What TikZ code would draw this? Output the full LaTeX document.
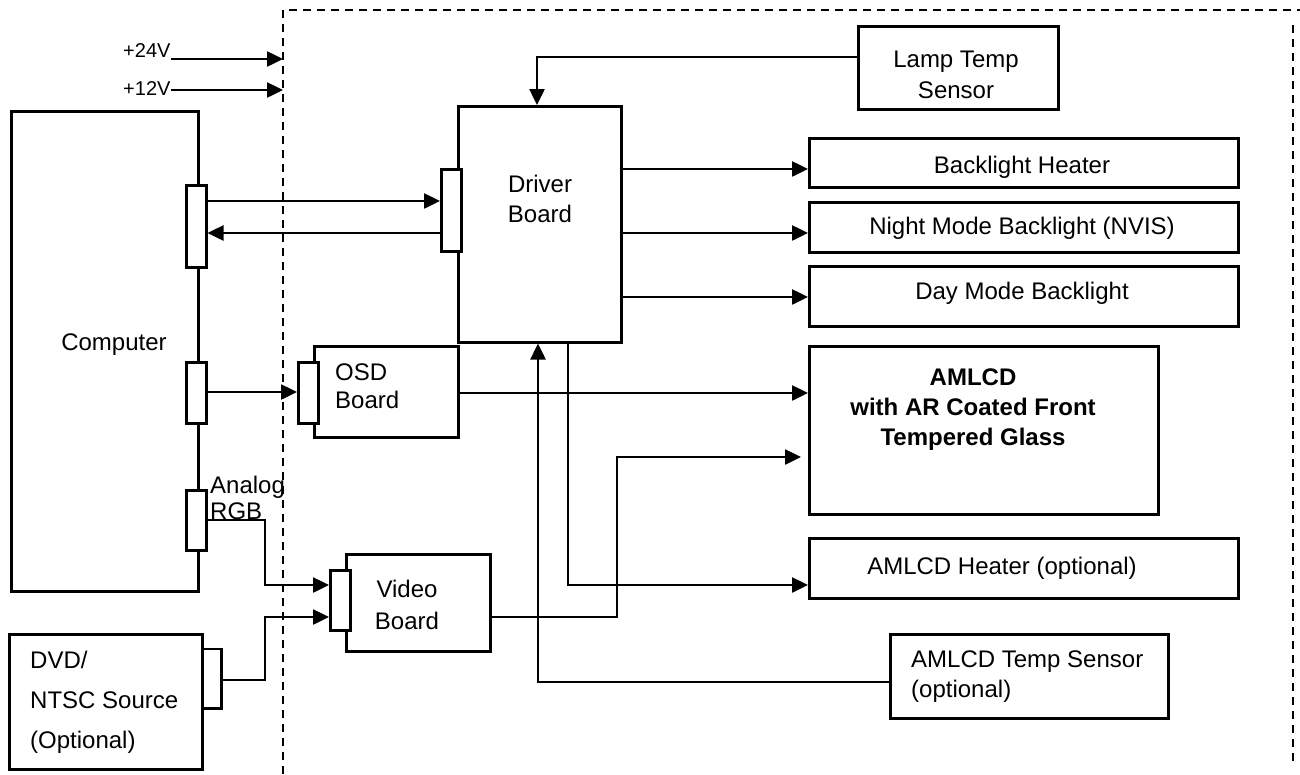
\documentclass[tikz,border=0pt]{standalone}
\usepackage{fontspec}
\setmainfont{Liberation Sans}
\usetikzlibrary{arrows.meta}
\begin{document}
\begin{tikzpicture}[x=1pt,y=-1pt,
  box/.style={draw, line width=2.5pt, anchor=north west, inner sep=0pt, fill=white},
  lbl/.style={font=\fontsize{24}{30}\selectfont, inner sep=0pt},
  slbl/.style={font=\fontsize{20}{24}\selectfont, inner sep=0pt},
  blbl/.style={font=\fontsize{24}{30}\selectfont\bfseries, inner sep=0pt},
  wire/.style={line width=2.5pt},
  arr/.style={wire, -{Triangle[length=16pt,width=15pt]}},
  bound/.style={line width=1.8pt, dash pattern=on 8pt off 6pt}]
\useasboundingbox (0,0) rectangle (1300,774);

% boundary
\coordinate (bTL) at (283,10);
\coordinate (bBL) at (283,774);
\coordinate (bTR) at (1300,10);
\coordinate (bRT) at (1293,25);
\coordinate (bRB) at (1293,762);
\draw[bound] (bBL) -- (bTL) -- (bTR);
\draw[bound, line width=1.4pt] (bRT) -- (bRB);
\coordinate (b24) at (283,59);
\coordinate (b12) at (283,90);

% boxes
\node[box, minimum width=187pt, minimum height=480pt] (comp) at (10,110) {};
\node[box, minimum width=163pt, minimum height=236pt] (driver) at (457,105) {};
\node[box, minimum width=200pt, minimum height=83pt] (lamp) at (857,25) {};
\node[box, minimum width=429pt, minimum height=49pt] (bh) at (808,137) {};
\node[box, minimum width=429pt, minimum height=50pt] (nm) at (808,201) {};
\node[box, minimum width=429pt, minimum height=60pt] (dm) at (808,265) {};
\node[box, minimum width=144pt, minimum height=91pt] (osd) at (313,345) {};
\node[box, minimum width=349pt, minimum height=168pt] (amlcd) at (808,345) {};
\node[box, minimum width=429pt, minimum height=60pt] (ah) at (808,537) {};
\node[box, minimum width=278pt, minimum height=84pt] (ats) at (889,633) {};
\node[box, minimum width=144pt, minimum height=97pt] (video) at (345,553) {};
\node[box, minimum width=193pt, minimum height=135pt] (dvd) at (8,633) {};

% connectors
\node[box, minimum width=20pt, minimum height=82pt] (cc1) at (185,184) {};
\node[box, minimum width=20pt, minimum height=61pt] (cc2) at (185,361) {};
\node[box, minimum width=20pt, minimum height=60pt] (cc3) at (185,489) {};
\node[box, minimum width=20pt, minimum height=82pt] (dc) at (440,168) {};
\node[box, minimum width=20pt, minimum height=61pt] (oc) at (297,361) {};
\node[box, minimum width=20pt, minimum height=60pt] (vc) at (329,569) {};
\node[anchor=north west, inner sep=0pt, minimum width=20pt, minimum height=59pt] (dvc) at (201,649) {};
\draw[wire] (dvc.north west) -- (dvc.north east) -- (dvc.south east) -- (dvc.south west);

% texts
\node[slbl, anchor=base west] (v24) at (123,57) {+24V};
\node[slbl, anchor=base west] (v12) at (123,95) {+12V};
\node[lbl, anchor=base] (tcomp) at (114,350) {Computer};
\node[lbl, anchor=base] (tdrv1) at (540,192) {Driver};
\node[lbl, anchor=base] (tdrv2) at (540,222) {Board};
\node[lbl, anchor=base] (tlamp1) at (956,67) {Lamp Temp};
\node[lbl, anchor=base] (tlamp2) at (956,98) {Sensor};
\node[lbl, anchor=base] (tbh) at (1022,173) {Backlight Heater};
\node[lbl, anchor=base] (tnm) at (1022,234) {Night Mode Backlight (NVIS)};
\node[lbl, anchor=base] (tdm) at (1022,299) {Day Mode Backlight};
\node[lbl, anchor=base west] (tosd1) at (335,380) {OSD};
\node[lbl, anchor=base west] (tosd2) at (335,408) {Board};
\node[blbl, anchor=base] (tam1) at (973,385) {AMLCD};
\node[blbl, anchor=base] (tam2) at (973,415) {with AR Coated Front};
\node[blbl, anchor=base] (tam3) at (973,445) {Tempered Glass};
\node[lbl, anchor=base] (tah) at (1002,574) {AMLCD Heater (optional)};
\node[lbl, anchor=base west] (tats1) at (911,667) {AMLCD Temp Sensor};
\node[lbl, anchor=base west] (tats2) at (911,697) {(optional)};
\node[lbl, anchor=base west] (trgb1) at (210,493) {Analog};
\node[lbl, anchor=base west] (trgb2) at (210,519) {RGB};
\node[lbl, anchor=base] (tvid1) at (407,597) {Video};
\node[lbl, anchor=base] (tvid2) at (407,629) {Board};
\node[lbl, anchor=base west] (tdvd1) at (30,668) {DVD/};
\node[lbl, anchor=base west] (tdvd2) at (30,708) {NTSC Source};
\node[lbl, anchor=base west] (tdvd3) at (30,748) {(Optional)};

% wires
\draw[arr] ([yshift=-2pt]v24.base east) -- (b24);
\draw[arr] ([yshift=5pt]v12.base east) -- (b12);
\draw[arr] (cc1.east |- 0,201) -- (dc.west |- 0,201);
\draw[arr] (dc.west |- 0,233) -- (cc1.east |- 0,233);
\draw[arr] (lamp.west |- 0,57) -- (537,57) -- (driver.north -| 537,0);
\draw[arr] ([xshift=-3pt]driver.east |- 0,169) -- (bh.west |- 0,169);
\draw[arr] ([xshift=-3pt]driver.east |- 0,233) -- (nm.west |- 0,233);
\draw[arr] ([xshift=-3pt]driver.east |- 0,297) -- (dm.west |- 0,297);
\draw[arr] (cc2.east |- 0,392) -- (oc.west |- 0,392);
\draw[arr] (osd.east |- 0,393) -- (amlcd.west |- 0,393);
\draw[arr] (driver.south -| 568,0) -- (568,585) -- (ah.west |- 0,585);
\draw[arr] (ats.west |- 0,682) -- (538,682) -- (driver.south -| 538,0);
\draw[arr] (cc3.east |- 0,520) -- (265,520) -- (265,585) -- (vc.west |- 0,585);
\draw[arr] (dvc.east |- 0,680) -- (265,680) -- (265,617) -- (vc.west |- 0,617);
\draw[arr, shorten >=7pt] (video.east |- 0,617) -- (617,617) -- (617,457) -- (amlcd.west |- 0,457);
\end{tikzpicture}
\end{document}
